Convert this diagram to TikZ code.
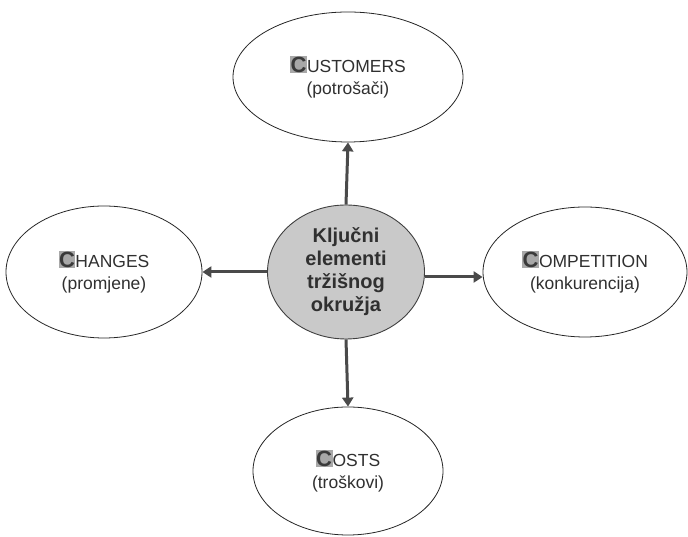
\documentclass[tikz,border=0pt]{standalone}
\usepackage{fontspec}
\setmainfont{Liberation Sans}
\usetikzlibrary{arrows.meta,shapes.geometric}
\definecolor{hlgray}{HTML}{A8A8A8}
\definecolor{cdark}{HTML}{3A3A3A}
\definecolor{txt}{HTML}{303030}
\definecolor{midfill}{HTML}{C9C9C9}
\definecolor{arr}{HTML}{4A4A4A}
\newcommand\hlC[2]{{\setlength\fboxsep{0.5pt}\colorbox{hlgray}{\fontsize{22}{22}\selectfont\bfseries\color{cdark}#1}}{\fontsize{17.5}{17.5}\selectfont #2}}
\tikzset{
  outer/.style={ellipse, draw=black!85, line width=0.8pt, fill=white, text=txt, align=center, font=\fontsize{17.5}{22}\selectfont},
  center/.style={ellipse, draw=black!75, line width=0.9pt, fill=midfill, text=txt, align=center, font=\fontsize{20}{23}\selectfont\bfseries},
  conn/.style={draw=arr, line width=3pt, -{Triangle[length=9pt,width=11pt]}}
}
\begin{document}
\begin{tikzpicture}[x=1pt,y=1pt]
\useasboundingbox (0,0) rectangle (688,537);
\node[center, minimum width=157pt, minimum height=134pt, inner sep=0pt] (c) at (346,265) {Ključni\\elementi\\tržišnog\\okružja};
\node[outer, minimum width=230pt, minimum height=130pt, inner sep=0pt] (cu) at (348,460) {\hlC{C}{USTOMERS}\\(potrošači)};
\node[outer, minimum width=196pt, minimum height=132pt, inner sep=0pt] (ch) at (104,265) {\hlC{C}{HANGES}\\(promjene)};
\node[outer, minimum width=204pt, minimum height=130pt, inner sep=0pt] (co) at (585,265) {\hlC{C}{OMPETITION}\\(konkurencija)};
\node[outer, minimum width=190pt, minimum height=128pt, inner sep=0pt] (cs) at (348,66) {\hlC{C}{OSTS}\\(troškovi)};
\draw[conn] (c.north) -- (cu.south);
\draw[conn] (c.south) -- (cs.north);
\draw[conn] (c.west) -- (ch.east);
\draw[conn] ([yshift=-5pt]c.east) -- ([yshift=-5pt]co.west);
\end{tikzpicture}
\end{document}
